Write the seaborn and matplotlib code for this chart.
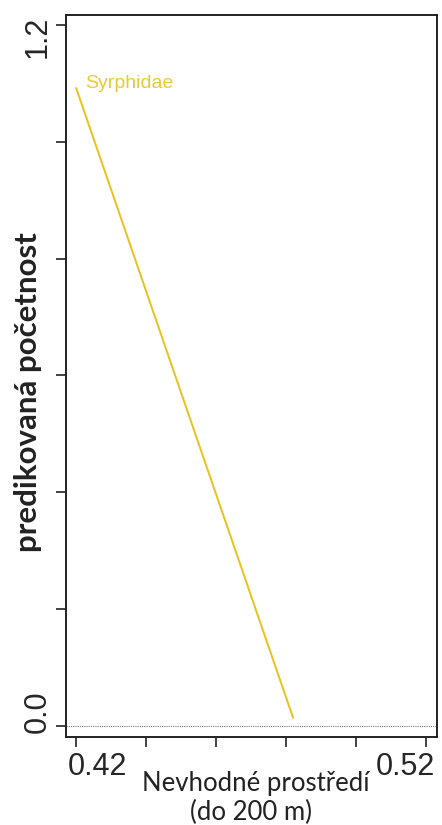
import matplotlib
matplotlib.use("Agg")
import matplotlib.pyplot as plt
import matplotlib.transforms as mtransforms
import seaborn as sns
import pandas as pd

# Predicted abundance along the unsuitable-habitat gradient
taxon = "Syrphidae"
habitat = [0.42, 0.482]
abundance = [1.092, 0.0137]

x_ticks = [0.42, 0.44, 0.46, 0.48, 0.50, 0.52]
x_ticklabels = ["0.42", "", "", "", "", "0.52"]
y_ticks = [0.0, 0.2, 0.4, 0.6, 0.8, 1.0, 1.2]
y_ticklabels = ["0.0", "", "", "", "", "", "1.2"]

gold = "#E8C21A"
label_gold = "#E8C83C"

sns.set_theme(style="white")
plt.rcParams["font.family"] = ["Liberation Sans", "DejaVu Sans"]

df = pd.DataFrame({"habitat": habitat, "abundance": abundance})

fig = plt.figure(figsize=(4.42, 8.25), dpi=100)
ax = fig.add_axes([66 / 442, 1 - 737 / 825, (437 - 66) / 442, (737 - 15) / 825])

sns.lineplot(data=df, x="habitat", y="abundance", color=gold, linewidth=1.4, ax=ax)
ax.axhline(0, color="#777777", linewidth=0.8, linestyle=(0, (1, 1)))

ax.text(0.4227, 1.085, taxon, color=label_gold, fontsize=14, ha="left", va="bottom")

ax.set_xlim(0.4171, 0.5231)
ax.set_ylim(-0.0188, 1.217)

ax.set_xticks(x_ticks)
ax.set_xticklabels(x_ticklabels, fontsize=22)
ax.set_yticks(y_ticks)
ax.set_yticklabels(y_ticklabels, fontsize=22, rotation=90, va="center")

ax.tick_params(axis="both", direction="out", length=7, width=1.2, color="#222222",
               bottom=True, left=True, pad=4)

# end labels sit inward from their ticks
def shift(lbl, dx, dy):
    lbl.set_transform(lbl.get_transform() + mtransforms.ScaledTranslation(dx / 100, dy / 100, fig.dpi_scale_trans))

xl = ax.get_xticklabels()
shift(xl[0], 21, 0)
shift(xl[-1], -21, 0)
yl = ax.get_yticklabels()
shift(yl[0], 2, 14)
shift(yl[-1], 2, -12)

for s in ax.spines.values():
    s.set_color("#222222")
    s.set_linewidth(1.4)

ax.set_xlabel("")
ax.set_ylabel("")

fig.text(256 / 442, 1 - 784 / 825, "Nevhodné prostředí", fontsize=18.5,
         family=["Lato", "DejaVu Sans"], ha="center", va="center", color="#222222")
fig.text(251 / 442, 1 - 812 / 825, "(do 200 m)", fontsize=18.5,
         family=["Lato", "DejaVu Sans"], ha="center", va="center", color="#222222")
fig.text(28 / 442, 1 - 392 / 825, "predikovaná početnost", fontsize=22.5, fontweight="bold",
         family=["Lato", "DejaVu Sans"], rotation=90, ha="center", va="center", color="#222222")

fig.savefig("out.png", dpi=100)
